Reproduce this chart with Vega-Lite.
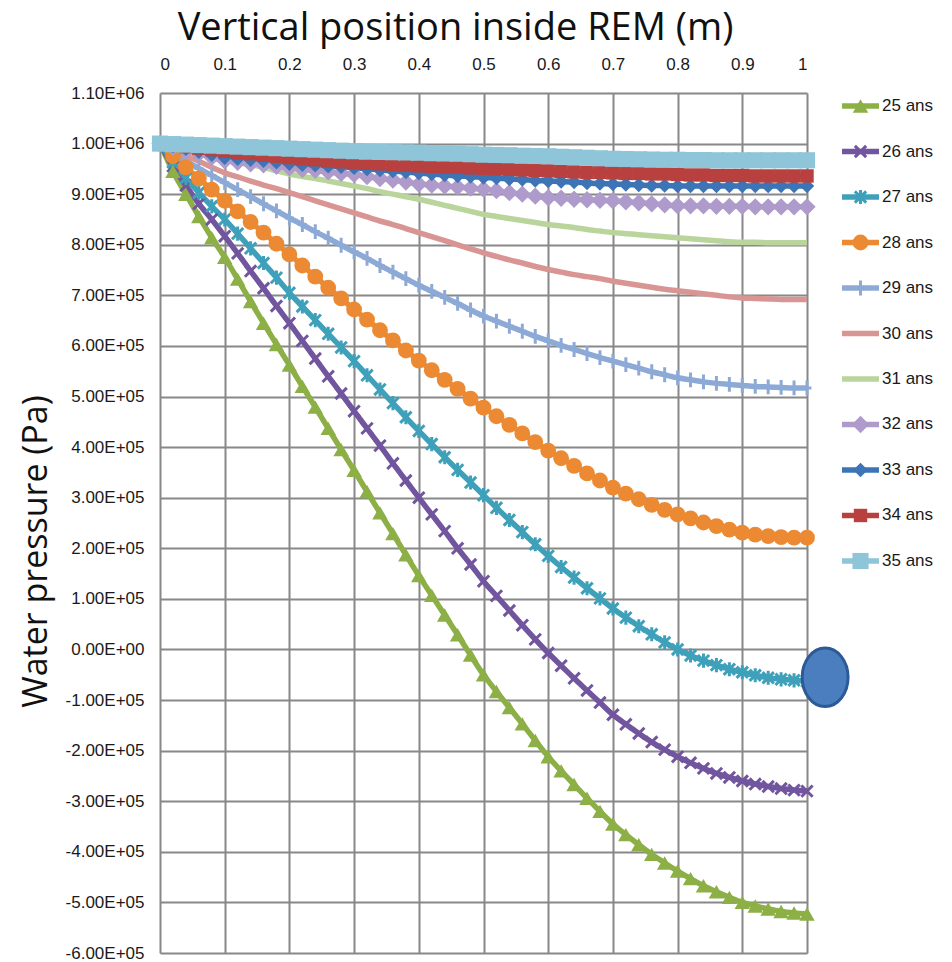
{
"$schema": "https://vega.github.io/schema/vega-lite/v6.json",
"background": "white",
"padding": {"left": 19, "top": 9, "right": 5, "bottom": 5},
"bounds": "flush",
"spacing": 35,
"config": {"view": {"stroke": null}},
"datasets": {
"note": [{"x": 1.028, "p": -55000}],
"legend": [{"s":"25 ans"},{"s":"26 ans"},{"s":"27 ans"},{"s":"28 ans"},{"s":"29 ans"},{"s":"30 ans"},{"s":"31 ans"},{"s":"32 ans"},{"s":"33 ans"},{"s":"34 ans"},{"s":"35 ans"}],
"curves": [
{"s":"25 ans","x":0,"p":1000000},{"s":"25 ans","x":0.02,"p":945000},{"s":"25 ans","x":0.04,"p":900000},{"s":"25 ans","x":0.06,"p":856000},{"s":"25 ans","x":0.08,"p":814000},{"s":"25 ans","x":0.1,"p":775000},{"s":"25 ans","x":0.12,"p":732000},{"s":"25 ans","x":0.14,"p":688000},{"s":"25 ans","x":0.16,"p":645000},{"s":"25 ans","x":0.18,"p":603000},{"s":"25 ans","x":0.2,"p":562000},{"s":"25 ans","x":0.22,"p":520000},{"s":"25 ans","x":0.24,"p":479000},{"s":"25 ans","x":0.26,"p":437000},{"s":"25 ans","x":0.28,"p":395000},{"s":"25 ans","x":0.3,"p":354000},{"s":"25 ans","x":0.32,"p":312000},{"s":"25 ans","x":0.34,"p":270000},{"s":"25 ans","x":0.36,"p":229000},{"s":"25 ans","x":0.38,"p":187000},{"s":"25 ans","x":0.4,"p":146000},{"s":"25 ans","x":0.42,"p":107000},{"s":"25 ans","x":0.44,"p":68000},{"s":"25 ans","x":0.46,"p":29000},{"s":"25 ans","x":0.48,"p":-11000},{"s":"25 ans","x":0.5,"p":-50000},{"s":"25 ans","x":0.52,"p":-83000},{"s":"25 ans","x":0.54,"p":-115000},{"s":"25 ans","x":0.56,"p":-147000},{"s":"25 ans","x":0.58,"p":-180000},{"s":"25 ans","x":0.6,"p":-212000},{"s":"25 ans","x":0.62,"p":-240000},{"s":"25 ans","x":0.64,"p":-267000},{"s":"25 ans","x":0.66,"p":-294000},{"s":"25 ans","x":0.68,"p":-320000},{"s":"25 ans","x":0.7,"p":-345000},{"s":"25 ans","x":0.72,"p":-366000},{"s":"25 ans","x":0.74,"p":-386000},{"s":"25 ans","x":0.76,"p":-405000},{"s":"25 ans","x":0.78,"p":-422000},{"s":"25 ans","x":0.8,"p":-438000},{"s":"25 ans","x":0.82,"p":-453000},{"s":"25 ans","x":0.84,"p":-467000},{"s":"25 ans","x":0.86,"p":-479000},{"s":"25 ans","x":0.88,"p":-490000},{"s":"25 ans","x":0.9,"p":-500000},{"s":"25 ans","x":0.92,"p":-507000},{"s":"25 ans","x":0.94,"p":-513000},{"s":"25 ans","x":0.96,"p":-518000},{"s":"25 ans","x":0.98,"p":-521000},{"s":"25 ans","x":1,"p":-523000},
{"s":"26 ans","x":0,"p":1000000},{"s":"26 ans","x":0.02,"p":955000},{"s":"26 ans","x":0.04,"p":917000},{"s":"26 ans","x":0.06,"p":881000},{"s":"26 ans","x":0.08,"p":850000},{"s":"26 ans","x":0.1,"p":817000},{"s":"26 ans","x":0.12,"p":783000},{"s":"26 ans","x":0.14,"p":748000},{"s":"26 ans","x":0.16,"p":714000},{"s":"26 ans","x":0.18,"p":679000},{"s":"26 ans","x":0.2,"p":645000},{"s":"26 ans","x":0.22,"p":610000},{"s":"26 ans","x":0.24,"p":575000},{"s":"26 ans","x":0.26,"p":540000},{"s":"26 ans","x":0.28,"p":506000},{"s":"26 ans","x":0.3,"p":471000},{"s":"26 ans","x":0.32,"p":437000},{"s":"26 ans","x":0.34,"p":403000},{"s":"26 ans","x":0.36,"p":368000},{"s":"26 ans","x":0.38,"p":334000},{"s":"26 ans","x":0.4,"p":300000},{"s":"26 ans","x":0.42,"p":267000},{"s":"26 ans","x":0.44,"p":234000},{"s":"26 ans","x":0.46,"p":200000},{"s":"26 ans","x":0.48,"p":168000},{"s":"26 ans","x":0.5,"p":135000},{"s":"26 ans","x":0.52,"p":106000},{"s":"26 ans","x":0.54,"p":77000},{"s":"26 ans","x":0.56,"p":48000},{"s":"26 ans","x":0.58,"p":20000},{"s":"26 ans","x":0.6,"p":-7000},{"s":"26 ans","x":0.62,"p":-32000},{"s":"26 ans","x":0.64,"p":-57000},{"s":"26 ans","x":0.66,"p":-81000},{"s":"26 ans","x":0.68,"p":-105000},{"s":"26 ans","x":0.7,"p":-129000},{"s":"26 ans","x":0.72,"p":-148000},{"s":"26 ans","x":0.74,"p":-166000},{"s":"26 ans","x":0.76,"p":-183000},{"s":"26 ans","x":0.78,"p":-198000},{"s":"26 ans","x":0.8,"p":-212000},{"s":"26 ans","x":0.82,"p":-224000},{"s":"26 ans","x":0.84,"p":-235000},{"s":"26 ans","x":0.86,"p":-245000},{"s":"26 ans","x":0.88,"p":-253000},{"s":"26 ans","x":0.9,"p":-260000},{"s":"26 ans","x":0.92,"p":-266000},{"s":"26 ans","x":0.94,"p":-271000},{"s":"26 ans","x":0.96,"p":-275000},{"s":"26 ans","x":0.98,"p":-278000},{"s":"26 ans","x":1,"p":-280000},
{"s":"27 ans","x":0,"p":1000000},{"s":"27 ans","x":0.02,"p":963000},{"s":"27 ans","x":0.04,"p":932000},{"s":"27 ans","x":0.06,"p":903000},{"s":"27 ans","x":0.08,"p":876000},{"s":"27 ans","x":0.1,"p":850000},{"s":"27 ans","x":0.12,"p":822000},{"s":"27 ans","x":0.14,"p":793000},{"s":"27 ans","x":0.16,"p":764000},{"s":"27 ans","x":0.18,"p":735000},{"s":"27 ans","x":0.2,"p":705000},{"s":"27 ans","x":0.22,"p":678000},{"s":"27 ans","x":0.24,"p":651000},{"s":"27 ans","x":0.26,"p":624000},{"s":"27 ans","x":0.28,"p":597000},{"s":"27 ans","x":0.3,"p":570000},{"s":"27 ans","x":0.32,"p":542000},{"s":"27 ans","x":0.34,"p":514000},{"s":"27 ans","x":0.36,"p":487000},{"s":"27 ans","x":0.38,"p":459000},{"s":"27 ans","x":0.4,"p":432000},{"s":"27 ans","x":0.42,"p":406000},{"s":"27 ans","x":0.44,"p":380000},{"s":"27 ans","x":0.46,"p":355000},{"s":"27 ans","x":0.48,"p":330000},{"s":"27 ans","x":0.5,"p":305000},{"s":"27 ans","x":0.52,"p":280000},{"s":"27 ans","x":0.54,"p":256000},{"s":"27 ans","x":0.56,"p":232000},{"s":"27 ans","x":0.58,"p":208000},{"s":"27 ans","x":0.6,"p":185000},{"s":"27 ans","x":0.62,"p":163000},{"s":"27 ans","x":0.64,"p":142000},{"s":"27 ans","x":0.66,"p":121000},{"s":"27 ans","x":0.68,"p":101000},{"s":"27 ans","x":0.7,"p":81000},{"s":"27 ans","x":0.72,"p":63000},{"s":"27 ans","x":0.74,"p":46000},{"s":"27 ans","x":0.76,"p":30000},{"s":"27 ans","x":0.78,"p":14000},{"s":"27 ans","x":0.8,"p":0},{"s":"27 ans","x":0.82,"p":-12000},{"s":"27 ans","x":0.84,"p":-22000},{"s":"27 ans","x":0.86,"p":-31000},{"s":"27 ans","x":0.88,"p":-39000},{"s":"27 ans","x":0.9,"p":-45000},{"s":"27 ans","x":0.92,"p":-51000},{"s":"27 ans","x":0.94,"p":-56000},{"s":"27 ans","x":0.96,"p":-59000},{"s":"27 ans","x":0.98,"p":-61000},{"s":"27 ans","x":1,"p":-63000},
{"s":"28 ans","x":0,"p":1000000},{"s":"28 ans","x":0.02,"p":975000},{"s":"28 ans","x":0.04,"p":953000},{"s":"28 ans","x":0.06,"p":931000},{"s":"28 ans","x":0.08,"p":909000},{"s":"28 ans","x":0.1,"p":887000},{"s":"28 ans","x":0.12,"p":866000},{"s":"28 ans","x":0.14,"p":845000},{"s":"28 ans","x":0.16,"p":824000},{"s":"28 ans","x":0.18,"p":802000},{"s":"28 ans","x":0.2,"p":781000},{"s":"28 ans","x":0.22,"p":759000},{"s":"28 ans","x":0.24,"p":737000},{"s":"28 ans","x":0.26,"p":715000},{"s":"28 ans","x":0.28,"p":694000},{"s":"28 ans","x":0.3,"p":672000},{"s":"28 ans","x":0.32,"p":652000},{"s":"28 ans","x":0.34,"p":631000},{"s":"28 ans","x":0.36,"p":611000},{"s":"28 ans","x":0.38,"p":591000},{"s":"28 ans","x":0.4,"p":571000},{"s":"28 ans","x":0.42,"p":552000},{"s":"28 ans","x":0.44,"p":533000},{"s":"28 ans","x":0.46,"p":515000},{"s":"28 ans","x":0.48,"p":496000},{"s":"28 ans","x":0.5,"p":478000},{"s":"28 ans","x":0.52,"p":461000},{"s":"28 ans","x":0.54,"p":444000},{"s":"28 ans","x":0.56,"p":427000},{"s":"28 ans","x":0.58,"p":410000},{"s":"28 ans","x":0.6,"p":393000},{"s":"28 ans","x":0.62,"p":378000},{"s":"28 ans","x":0.64,"p":363000},{"s":"28 ans","x":0.66,"p":348000},{"s":"28 ans","x":0.68,"p":334000},{"s":"28 ans","x":0.7,"p":320000},{"s":"28 ans","x":0.72,"p":308000},{"s":"28 ans","x":0.74,"p":297000},{"s":"28 ans","x":0.76,"p":286000},{"s":"28 ans","x":0.78,"p":276000},{"s":"28 ans","x":0.8,"p":267000},{"s":"28 ans","x":0.82,"p":259000},{"s":"28 ans","x":0.84,"p":251000},{"s":"28 ans","x":0.86,"p":244000},{"s":"28 ans","x":0.88,"p":237000},{"s":"28 ans","x":0.9,"p":231000},{"s":"28 ans","x":0.92,"p":227000},{"s":"28 ans","x":0.94,"p":224000},{"s":"28 ans","x":0.96,"p":222000},{"s":"28 ans","x":0.98,"p":221000},{"s":"28 ans","x":1,"p":221000},
{"s":"29 ans","x":0,"p":1000000},{"s":"29 ans","x":0.02,"p":982000},{"s":"29 ans","x":0.04,"p":966000},{"s":"29 ans","x":0.06,"p":951000},{"s":"29 ans","x":0.08,"p":937000},{"s":"29 ans","x":0.1,"p":923000},{"s":"29 ans","x":0.12,"p":909000},{"s":"29 ans","x":0.14,"p":895000},{"s":"29 ans","x":0.16,"p":881000},{"s":"29 ans","x":0.18,"p":867000},{"s":"29 ans","x":0.2,"p":853000},{"s":"29 ans","x":0.22,"p":840000},{"s":"29 ans","x":0.24,"p":826000},{"s":"29 ans","x":0.26,"p":813000},{"s":"29 ans","x":0.28,"p":799000},{"s":"29 ans","x":0.3,"p":786000},{"s":"29 ans","x":0.32,"p":773000},{"s":"29 ans","x":0.34,"p":759000},{"s":"29 ans","x":0.36,"p":746000},{"s":"29 ans","x":0.38,"p":733000},{"s":"29 ans","x":0.4,"p":720000},{"s":"29 ans","x":0.42,"p":708000},{"s":"29 ans","x":0.44,"p":696000},{"s":"29 ans","x":0.46,"p":684000},{"s":"29 ans","x":0.48,"p":671000},{"s":"29 ans","x":0.5,"p":659000},{"s":"29 ans","x":0.52,"p":649000},{"s":"29 ans","x":0.54,"p":639000},{"s":"29 ans","x":0.56,"p":629000},{"s":"29 ans","x":0.58,"p":619000},{"s":"29 ans","x":0.6,"p":610000},{"s":"29 ans","x":0.62,"p":601000},{"s":"29 ans","x":0.64,"p":593000},{"s":"29 ans","x":0.66,"p":585000},{"s":"29 ans","x":0.68,"p":577000},{"s":"29 ans","x":0.7,"p":570000},{"s":"29 ans","x":0.72,"p":563000},{"s":"29 ans","x":0.74,"p":556000},{"s":"29 ans","x":0.76,"p":549000},{"s":"29 ans","x":0.78,"p":543000},{"s":"29 ans","x":0.8,"p":537000},{"s":"29 ans","x":0.82,"p":533000},{"s":"29 ans","x":0.84,"p":529000},{"s":"29 ans","x":0.86,"p":526000},{"s":"29 ans","x":0.88,"p":524000},{"s":"29 ans","x":0.9,"p":522000},{"s":"29 ans","x":0.92,"p":520000},{"s":"29 ans","x":0.94,"p":519000},{"s":"29 ans","x":0.96,"p":518000},{"s":"29 ans","x":0.98,"p":517000},{"s":"29 ans","x":1,"p":517000},
{"s":"30 ans","x":0,"p":1000000},{"s":"30 ans","x":0.02,"p":988000},{"s":"30 ans","x":0.04,"p":976000},{"s":"30 ans","x":0.06,"p":965000},{"s":"30 ans","x":0.08,"p":953000},{"s":"30 ans","x":0.1,"p":942000},{"s":"30 ans","x":0.12,"p":934000},{"s":"30 ans","x":0.14,"p":926000},{"s":"30 ans","x":0.16,"p":918000},{"s":"30 ans","x":0.18,"p":911000},{"s":"30 ans","x":0.2,"p":903000},{"s":"30 ans","x":0.22,"p":895000},{"s":"30 ans","x":0.24,"p":887000},{"s":"30 ans","x":0.26,"p":879000},{"s":"30 ans","x":0.28,"p":871000},{"s":"30 ans","x":0.3,"p":863000},{"s":"30 ans","x":0.32,"p":855000},{"s":"30 ans","x":0.34,"p":847000},{"s":"30 ans","x":0.36,"p":840000},{"s":"30 ans","x":0.38,"p":832000},{"s":"30 ans","x":0.4,"p":824000},{"s":"30 ans","x":0.42,"p":816000},{"s":"30 ans","x":0.44,"p":808000},{"s":"30 ans","x":0.46,"p":800000},{"s":"30 ans","x":0.48,"p":792000},{"s":"30 ans","x":0.5,"p":784000},{"s":"30 ans","x":0.52,"p":777000},{"s":"30 ans","x":0.54,"p":770000},{"s":"30 ans","x":0.56,"p":764000},{"s":"30 ans","x":0.58,"p":757000},{"s":"30 ans","x":0.6,"p":751000},{"s":"30 ans","x":0.62,"p":746000},{"s":"30 ans","x":0.64,"p":741000},{"s":"30 ans","x":0.66,"p":737000},{"s":"30 ans","x":0.68,"p":733000},{"s":"30 ans","x":0.7,"p":728000},{"s":"30 ans","x":0.72,"p":724000},{"s":"30 ans","x":0.74,"p":720000},{"s":"30 ans","x":0.76,"p":716000},{"s":"30 ans","x":0.78,"p":712000},{"s":"30 ans","x":0.8,"p":709000},{"s":"30 ans","x":0.82,"p":706000},{"s":"30 ans","x":0.84,"p":703000},{"s":"30 ans","x":0.86,"p":700000},{"s":"30 ans","x":0.88,"p":697000},{"s":"30 ans","x":0.9,"p":695000},{"s":"30 ans","x":0.92,"p":694000},{"s":"30 ans","x":0.94,"p":693000},{"s":"30 ans","x":0.96,"p":692000},{"s":"30 ans","x":0.98,"p":692000},{"s":"30 ans","x":1,"p":692000},
{"s":"31 ans","x":0,"p":1000000},{"s":"31 ans","x":0.02,"p":994000},{"s":"31 ans","x":0.04,"p":988000},{"s":"31 ans","x":0.06,"p":981000},{"s":"31 ans","x":0.08,"p":975000},{"s":"31 ans","x":0.1,"p":969000},{"s":"31 ans","x":0.12,"p":963000},{"s":"31 ans","x":0.14,"p":958000},{"s":"31 ans","x":0.16,"p":953000},{"s":"31 ans","x":0.18,"p":946000},{"s":"31 ans","x":0.2,"p":940000},{"s":"31 ans","x":0.22,"p":935000},{"s":"31 ans","x":0.24,"p":931000},{"s":"31 ans","x":0.26,"p":926000},{"s":"31 ans","x":0.28,"p":921000},{"s":"31 ans","x":0.3,"p":916000},{"s":"31 ans","x":0.32,"p":911000},{"s":"31 ans","x":0.34,"p":905000},{"s":"31 ans","x":0.36,"p":900000},{"s":"31 ans","x":0.38,"p":895000},{"s":"31 ans","x":0.4,"p":890000},{"s":"31 ans","x":0.42,"p":884000},{"s":"31 ans","x":0.44,"p":878000},{"s":"31 ans","x":0.46,"p":872000},{"s":"31 ans","x":0.48,"p":866000},{"s":"31 ans","x":0.5,"p":860000},{"s":"31 ans","x":0.52,"p":856000},{"s":"31 ans","x":0.54,"p":852000},{"s":"31 ans","x":0.56,"p":848000},{"s":"31 ans","x":0.58,"p":844000},{"s":"31 ans","x":0.6,"p":840000},{"s":"31 ans","x":0.62,"p":837000},{"s":"31 ans","x":0.64,"p":834000},{"s":"31 ans","x":0.66,"p":830000},{"s":"31 ans","x":0.68,"p":827000},{"s":"31 ans","x":0.7,"p":824000},{"s":"31 ans","x":0.72,"p":822000},{"s":"31 ans","x":0.74,"p":820000},{"s":"31 ans","x":0.76,"p":818000},{"s":"31 ans","x":0.78,"p":816000},{"s":"31 ans","x":0.8,"p":814000},{"s":"31 ans","x":0.82,"p":812000},{"s":"31 ans","x":0.84,"p":810000},{"s":"31 ans","x":0.86,"p":808000},{"s":"31 ans","x":0.88,"p":806000},{"s":"31 ans","x":0.9,"p":805000},{"s":"31 ans","x":0.92,"p":805000},{"s":"31 ans","x":0.94,"p":804000},{"s":"31 ans","x":0.96,"p":804000},{"s":"31 ans","x":0.98,"p":804000},{"s":"31 ans","x":1,"p":804000},
{"s":"32 ans","x":0,"p":1000000},{"s":"32 ans","x":0.02,"p":993000},{"s":"32 ans","x":0.04,"p":986000},{"s":"32 ans","x":0.06,"p":980000},{"s":"32 ans","x":0.08,"p":973000},{"s":"32 ans","x":0.1,"p":966000},{"s":"32 ans","x":0.12,"p":963000},{"s":"32 ans","x":0.14,"p":960000},{"s":"32 ans","x":0.16,"p":958000},{"s":"32 ans","x":0.18,"p":955000},{"s":"32 ans","x":0.2,"p":952000},{"s":"32 ans","x":0.22,"p":949000},{"s":"32 ans","x":0.24,"p":947000},{"s":"32 ans","x":0.26,"p":944000},{"s":"32 ans","x":0.28,"p":941000},{"s":"32 ans","x":0.3,"p":939000},{"s":"32 ans","x":0.32,"p":935000},{"s":"32 ans","x":0.34,"p":931000},{"s":"32 ans","x":0.36,"p":928000},{"s":"32 ans","x":0.38,"p":924000},{"s":"32 ans","x":0.4,"p":920000},{"s":"32 ans","x":0.42,"p":918000},{"s":"32 ans","x":0.44,"p":916000},{"s":"32 ans","x":0.46,"p":914000},{"s":"32 ans","x":0.48,"p":912000},{"s":"32 ans","x":0.5,"p":910000},{"s":"32 ans","x":0.52,"p":907000},{"s":"32 ans","x":0.54,"p":903000},{"s":"32 ans","x":0.56,"p":900000},{"s":"32 ans","x":0.58,"p":896000},{"s":"32 ans","x":0.6,"p":893000},{"s":"32 ans","x":0.62,"p":892000},{"s":"32 ans","x":0.64,"p":890000},{"s":"32 ans","x":0.66,"p":889000},{"s":"32 ans","x":0.68,"p":888000},{"s":"32 ans","x":0.7,"p":887000},{"s":"32 ans","x":0.72,"p":885000},{"s":"32 ans","x":0.74,"p":883000},{"s":"32 ans","x":0.76,"p":881000},{"s":"32 ans","x":0.78,"p":879000},{"s":"32 ans","x":0.8,"p":877000},{"s":"32 ans","x":0.82,"p":877000},{"s":"32 ans","x":0.84,"p":877000},{"s":"32 ans","x":0.86,"p":876000},{"s":"32 ans","x":0.88,"p":876000},{"s":"32 ans","x":0.9,"p":876000},{"s":"32 ans","x":0.92,"p":875000},{"s":"32 ans","x":0.94,"p":875000},{"s":"32 ans","x":0.96,"p":875000},{"s":"32 ans","x":0.98,"p":875000},{"s":"32 ans","x":1,"p":875000},
{"s":"33 ans","x":0,"p":1000000},{"s":"33 ans","x":0.02,"p":995000},{"s":"33 ans","x":0.04,"p":990000},{"s":"33 ans","x":0.06,"p":984000},{"s":"33 ans","x":0.08,"p":978000},{"s":"33 ans","x":0.1,"p":972000},{"s":"33 ans","x":0.12,"p":970000},{"s":"33 ans","x":0.14,"p":968000},{"s":"33 ans","x":0.16,"p":966000},{"s":"33 ans","x":0.18,"p":963000},{"s":"33 ans","x":0.2,"p":960000},{"s":"33 ans","x":0.22,"p":958000},{"s":"33 ans","x":0.24,"p":957000},{"s":"33 ans","x":0.26,"p":955000},{"s":"33 ans","x":0.28,"p":954000},{"s":"33 ans","x":0.3,"p":952000},{"s":"33 ans","x":0.32,"p":950000},{"s":"33 ans","x":0.34,"p":948000},{"s":"33 ans","x":0.36,"p":946000},{"s":"33 ans","x":0.38,"p":944000},{"s":"33 ans","x":0.4,"p":942000},{"s":"33 ans","x":0.42,"p":940000},{"s":"33 ans","x":0.44,"p":938000},{"s":"33 ans","x":0.46,"p":936000},{"s":"33 ans","x":0.48,"p":935000},{"s":"33 ans","x":0.5,"p":933000},{"s":"33 ans","x":0.52,"p":932000},{"s":"33 ans","x":0.54,"p":930000},{"s":"33 ans","x":0.56,"p":929000},{"s":"33 ans","x":0.58,"p":927000},{"s":"33 ans","x":0.6,"p":926000},{"s":"33 ans","x":0.62,"p":925000},{"s":"33 ans","x":0.64,"p":924000},{"s":"33 ans","x":0.66,"p":922000},{"s":"33 ans","x":0.68,"p":921000},{"s":"33 ans","x":0.7,"p":920000},{"s":"33 ans","x":0.72,"p":919000},{"s":"33 ans","x":0.74,"p":918000},{"s":"33 ans","x":0.76,"p":917000},{"s":"33 ans","x":0.78,"p":917000},{"s":"33 ans","x":0.8,"p":916000},{"s":"33 ans","x":0.82,"p":916000},{"s":"33 ans","x":0.84,"p":916000},{"s":"33 ans","x":0.86,"p":916000},{"s":"33 ans","x":0.88,"p":916000},{"s":"33 ans","x":0.9,"p":916000},{"s":"33 ans","x":0.92,"p":916000},{"s":"33 ans","x":0.94,"p":916000},{"s":"33 ans","x":0.96,"p":916000},{"s":"33 ans","x":0.98,"p":916000},{"s":"33 ans","x":1,"p":916000},
{"s":"34 ans","x":0,"p":1000000},{"s":"34 ans","x":0.02,"p":997000},{"s":"34 ans","x":0.04,"p":994000},{"s":"34 ans","x":0.06,"p":991000},{"s":"34 ans","x":0.08,"p":988000},{"s":"34 ans","x":0.1,"p":985000},{"s":"34 ans","x":0.12,"p":982000},{"s":"34 ans","x":0.14,"p":980000},{"s":"34 ans","x":0.16,"p":977000},{"s":"34 ans","x":0.18,"p":975000},{"s":"34 ans","x":0.2,"p":972000},{"s":"34 ans","x":0.22,"p":970000},{"s":"34 ans","x":0.24,"p":968000},{"s":"34 ans","x":0.26,"p":966000},{"s":"34 ans","x":0.28,"p":964000},{"s":"34 ans","x":0.3,"p":962000},{"s":"34 ans","x":0.32,"p":961000},{"s":"34 ans","x":0.34,"p":960000},{"s":"34 ans","x":0.36,"p":958000},{"s":"34 ans","x":0.38,"p":957000},{"s":"34 ans","x":0.4,"p":956000},{"s":"34 ans","x":0.42,"p":955000},{"s":"34 ans","x":0.44,"p":954000},{"s":"34 ans","x":0.46,"p":953000},{"s":"34 ans","x":0.48,"p":952000},{"s":"34 ans","x":0.5,"p":951000},{"s":"34 ans","x":0.52,"p":950000},{"s":"34 ans","x":0.54,"p":949000},{"s":"34 ans","x":0.56,"p":948000},{"s":"34 ans","x":0.58,"p":947000},{"s":"34 ans","x":0.6,"p":946000},{"s":"34 ans","x":0.62,"p":945000},{"s":"34 ans","x":0.64,"p":944000},{"s":"34 ans","x":0.66,"p":943000},{"s":"34 ans","x":0.68,"p":943000},{"s":"34 ans","x":0.7,"p":942000},{"s":"34 ans","x":0.72,"p":941000},{"s":"34 ans","x":0.74,"p":941000},{"s":"34 ans","x":0.76,"p":940000},{"s":"34 ans","x":0.78,"p":940000},{"s":"34 ans","x":0.8,"p":939000},{"s":"34 ans","x":0.82,"p":938000},{"s":"34 ans","x":0.84,"p":938000},{"s":"34 ans","x":0.86,"p":937000},{"s":"34 ans","x":0.88,"p":937000},{"s":"34 ans","x":0.9,"p":937000},{"s":"34 ans","x":0.92,"p":936000},{"s":"34 ans","x":0.94,"p":936000},{"s":"34 ans","x":0.96,"p":936000},{"s":"34 ans","x":0.98,"p":936000},{"s":"34 ans","x":1,"p":936000},
{"s":"35 ans","x":0,"p":1000000},{"s":"35 ans","x":0.02,"p":999000},{"s":"35 ans","x":0.04,"p":998000},{"s":"35 ans","x":0.06,"p":997000},{"s":"35 ans","x":0.08,"p":996000},{"s":"35 ans","x":0.1,"p":995000},{"s":"35 ans","x":0.12,"p":994000},{"s":"35 ans","x":0.14,"p":993000},{"s":"35 ans","x":0.16,"p":992000},{"s":"35 ans","x":0.18,"p":991000},{"s":"35 ans","x":0.2,"p":990000},{"s":"35 ans","x":0.22,"p":989000},{"s":"35 ans","x":0.24,"p":988000},{"s":"35 ans","x":0.26,"p":987000},{"s":"35 ans","x":0.28,"p":986000},{"s":"35 ans","x":0.3,"p":985000},{"s":"35 ans","x":0.32,"p":984000},{"s":"35 ans","x":0.34,"p":983500},{"s":"35 ans","x":0.36,"p":983000},{"s":"35 ans","x":0.38,"p":982500},{"s":"35 ans","x":0.4,"p":982000},{"s":"35 ans","x":0.42,"p":981000},{"s":"35 ans","x":0.44,"p":980500},{"s":"35 ans","x":0.46,"p":980000},{"s":"35 ans","x":0.48,"p":979000},{"s":"35 ans","x":0.5,"p":978000},{"s":"35 ans","x":0.52,"p":977500},{"s":"35 ans","x":0.54,"p":977000},{"s":"35 ans","x":0.56,"p":976000},{"s":"35 ans","x":0.58,"p":975500},{"s":"35 ans","x":0.6,"p":975000},{"s":"35 ans","x":0.62,"p":974000},{"s":"35 ans","x":0.64,"p":973000},{"s":"35 ans","x":0.66,"p":972000},{"s":"35 ans","x":0.68,"p":971000},{"s":"35 ans","x":0.7,"p":970000},{"s":"35 ans","x":0.72,"p":969500},{"s":"35 ans","x":0.74,"p":969000},{"s":"35 ans","x":0.76,"p":968500},{"s":"35 ans","x":0.78,"p":968000},{"s":"35 ans","x":0.8,"p":968000},{"s":"35 ans","x":0.82,"p":967500},{"s":"35 ans","x":0.84,"p":967500},{"s":"35 ans","x":0.86,"p":967000},{"s":"35 ans","x":0.88,"p":967000},{"s":"35 ans","x":0.9,"p":967000},{"s":"35 ans","x":0.92,"p":967000},{"s":"35 ans","x":0.94,"p":967000},{"s":"35 ans","x":0.96,"p":967000},{"s":"35 ans","x":0.98,"p":967000},{"s":"35 ans","x":1,"p":967000}
]
},
"hconcat": [
{
"width": 647,
"height": 860,
"data": {"name": "curves"},
"encoding": {
"x": {"field": "x", "type": "quantitative",
"scale": {"domain": [0, 1], "nice": false, "zero": false},
"axis": {"orient": "top", "values": [0,0.1,0.2,0.3,0.4,0.5,0.6,0.7,0.8,0.9,1], "format": ".1~f",
"title": "Vertical position inside REM (m)", "titleX": 295, "titleAlign": "center", "grid": true, "gridColor": "#888888", "gridWidth": 2, "gridOpacity": 1,
"domain": false, "ticks": false, "labelFont": "Liberation Sans", "labelFontSize": 17, "labelColor": "#1a1a1a", "labelPadding": 20,
"titleFont": "Open Sans", "titleFontSize": 38, "titleFontWeight": "normal", "titleColor": "#111111", "titlePadding": 8}},
"y": {"field": "p", "type": "quantitative",
"scale": {"domain": [-600000, 1100000], "nice": false, "zero": false},
"axis": {"values": [-600000,-500000,-400000,-300000,-200000,-100000,0,100000,200000,300000,400000,500000,600000,700000,800000,900000,1000000,1100000],
"labelExpr": "replace(replace(format(datum.value, '.2e'), 'e+', 'E+0'), '\u2212', '-')",
"title": "Water pressure (Pa)", "titleY": 458, "titleAlign": "center", "grid": true, "gridColor": "#888888", "gridWidth": 2, "gridOpacity": 1,
"domain": false, "ticks": false, "labelFont": "Liberation Sans", "labelFontSize": 17, "labelColor": "#1a1a1a", "labelPadding": 16,
"titleFont": "Open Sans", "titleFontSize": 34, "titleFontWeight": "normal", "titleColor": "#111111", "titlePadding": 12}}
},
"layer": [
{"mark": {"type": "line", "strokeWidth": 5.5, "interpolate": "monotone"},
"encoding": {"color": {"field": "s", "type": "nominal", "legend": null,
"scale": {"domain": ["25 ans","26 ans","27 ans","28 ans","29 ans","30 ans","31 ans","32 ans","33 ans","34 ans","35 ans"],
"range": ["#8CAF46","#71559E","#3FA0BA","#EC8A33","#8DAAD6","#D99593","#B9D59B","#AE9BCB","#3D74B6","#B8403E","#8EC5D8"]}}}},
{"transform": [{"filter": "datum.s == '26 ans'"}], "mark": {"type": "point", "filled": false, "shape": "M-0.8,-0.8L0.8,0.8M-0.8,0.8L0.8,-0.8", "size": 200, "strokeWidth": 3, "color": "#71559E", "opacity": 1}},
{"transform": [{"filter": "datum.s == '27 ans'"}], "mark": {"type": "point", "filled": false, "shape": "M-0.8,-0.8L0.8,0.8M-0.8,0.8L0.8,-0.8M0,-1L0,1", "size": 200, "strokeWidth": 3, "color": "#3FA0BA", "opacity": 1}},
{"transform": [{"filter": "datum.s == '29 ans'"}], "mark": {"type": "point", "filled": false, "shape": "M-0.6,0L0.6,0M0,-1L0,1", "size": 220, "strokeWidth": 3, "color": "#8DAAD6", "opacity": 1}},
{"transform": [{"filter": "datum.s == '25 ans'"}], "mark": {"type": "point", "filled": true, "shape": "triangle-up", "size": 240, "color": "#8CAF46", "opacity": 1}},
{"transform": [{"filter": "datum.s == '28 ans'"}], "mark": {"type": "point", "filled": true, "shape": "circle", "size": 250, "color": "#EC8A33", "opacity": 1}},
{"transform": [{"filter": "datum.s == '32 ans'"}], "mark": {"type": "point", "filled": true, "shape": "diamond", "size": 300, "color": "#AE9BCB", "opacity": 1}},
{"transform": [{"filter": "datum.s == '33 ans'"}], "mark": {"type": "point", "filled": true, "shape": "diamond", "size": 210, "color": "#3D74B6", "opacity": 1}},
{"transform": [{"filter": "datum.s == '34 ans'"}], "mark": {"type": "point", "filled": true, "shape": "square", "size": 180, "color": "#B8403E", "opacity": 1}},
{"transform": [{"filter": "datum.s == '35 ans'"}], "mark": {"type": "point", "filled": true, "shape": "square", "size": 260, "color": "#8EC5D8", "opacity": 1}},
{"data": {"name": "note"}, "mark": {"type": "point", "filled": true, "shape": "M0,-1.15A0.9,1.15,0,1,1,0,1.15A0.9,1.15,0,1,1,0,-1.15", "size": 2600, "fill": "#4A7EBF", "stroke": "#2D5A96", "strokeWidth": 3, "opacity": 1}}
]
},
{
"width": 100,
"height": 481,
"data": {"name": "legend"},
"encoding": {
"y": {"field": "s", "type": "nominal", "axis": null,
"scale": {"type": "point", "padding": 0.286, "domain": ["25 ans","26 ans","27 ans","28 ans","29 ans","30 ans","31 ans","32 ans","33 ans","34 ans","35 ans"]}}
},
"layer": [
{"mark": {"type": "rule", "strokeWidth": 5.5},
"encoding": {
"x": {"datum": 0, "type": "quantitative", "scale": {"domain": [0, 2.7], "nice": false, "zero": false}, "axis": null},
"x2": {"datum": 1},
"color": {"field": "s", "type": "nominal", "legend": null,
"scale": {"domain": ["25 ans","26 ans","27 ans","28 ans","29 ans","30 ans","31 ans","32 ans","33 ans","34 ans","35 ans"],
"range": ["#8CAF46","#71559E","#3FA0BA","#EC8A33","#8DAAD6","#D99593","#B9D59B","#AE9BCB","#3D74B6","#B8403E","#8EC5D8"]}}}},
{"transform": [{"filter": "datum.s == '26 ans'"}], "mark": {"type": "point", "filled": false, "shape": "M-0.8,-0.8L0.8,0.8M-0.8,0.8L0.8,-0.8", "size": 200, "strokeWidth": 3, "color": "#71559E", "opacity": 1}, "encoding": {"x": {"datum": 0.5, "type": "quantitative"}}},
{"transform": [{"filter": "datum.s == '27 ans'"}], "mark": {"type": "point", "filled": false, "shape": "M-0.8,-0.8L0.8,0.8M-0.8,0.8L0.8,-0.8M0,-1L0,1", "size": 200, "strokeWidth": 3, "color": "#3FA0BA", "opacity": 1}, "encoding": {"x": {"datum": 0.5, "type": "quantitative"}}},
{"transform": [{"filter": "datum.s == '29 ans'"}], "mark": {"type": "point", "filled": false, "shape": "M-0.6,0L0.6,0M0,-1L0,1", "size": 220, "strokeWidth": 3, "color": "#8DAAD6", "opacity": 1}, "encoding": {"x": {"datum": 0.5, "type": "quantitative"}}},
{"transform": [{"filter": "datum.s == '25 ans'"}], "mark": {"type": "point", "filled": true, "shape": "triangle-up", "size": 240, "color": "#8CAF46", "opacity": 1}, "encoding": {"x": {"datum": 0.5, "type": "quantitative"}}},
{"transform": [{"filter": "datum.s == '28 ans'"}], "mark": {"type": "point", "filled": true, "shape": "circle", "size": 250, "color": "#EC8A33", "opacity": 1}, "encoding": {"x": {"datum": 0.5, "type": "quantitative"}}},
{"transform": [{"filter": "datum.s == '32 ans'"}], "mark": {"type": "point", "filled": true, "shape": "diamond", "size": 300, "color": "#AE9BCB", "opacity": 1}, "encoding": {"x": {"datum": 0.5, "type": "quantitative"}}},
{"transform": [{"filter": "datum.s == '33 ans'"}], "mark": {"type": "point", "filled": true, "shape": "diamond", "size": 210, "color": "#3D74B6", "opacity": 1}, "encoding": {"x": {"datum": 0.5, "type": "quantitative"}}},
{"transform": [{"filter": "datum.s == '34 ans'"}], "mark": {"type": "point", "filled": true, "shape": "square", "size": 180, "color": "#B8403E", "opacity": 1}, "encoding": {"x": {"datum": 0.5, "type": "quantitative"}}},
{"transform": [{"filter": "datum.s == '35 ans'"}], "mark": {"type": "point", "filled": true, "shape": "square", "size": 260, "color": "#8EC5D8", "opacity": 1}, "encoding": {"x": {"datum": 0.5, "type": "quantitative"}}},
{"mark": {"type": "text", "align": "left", "baseline": "middle", "font": "Liberation Sans", "fontSize": 17, "color": "#1a1a1a"},
"encoding": {"x": {"datum": 1.08, "type": "quantitative"}, "text": {"field": "s"}}}
]
}
]
}
